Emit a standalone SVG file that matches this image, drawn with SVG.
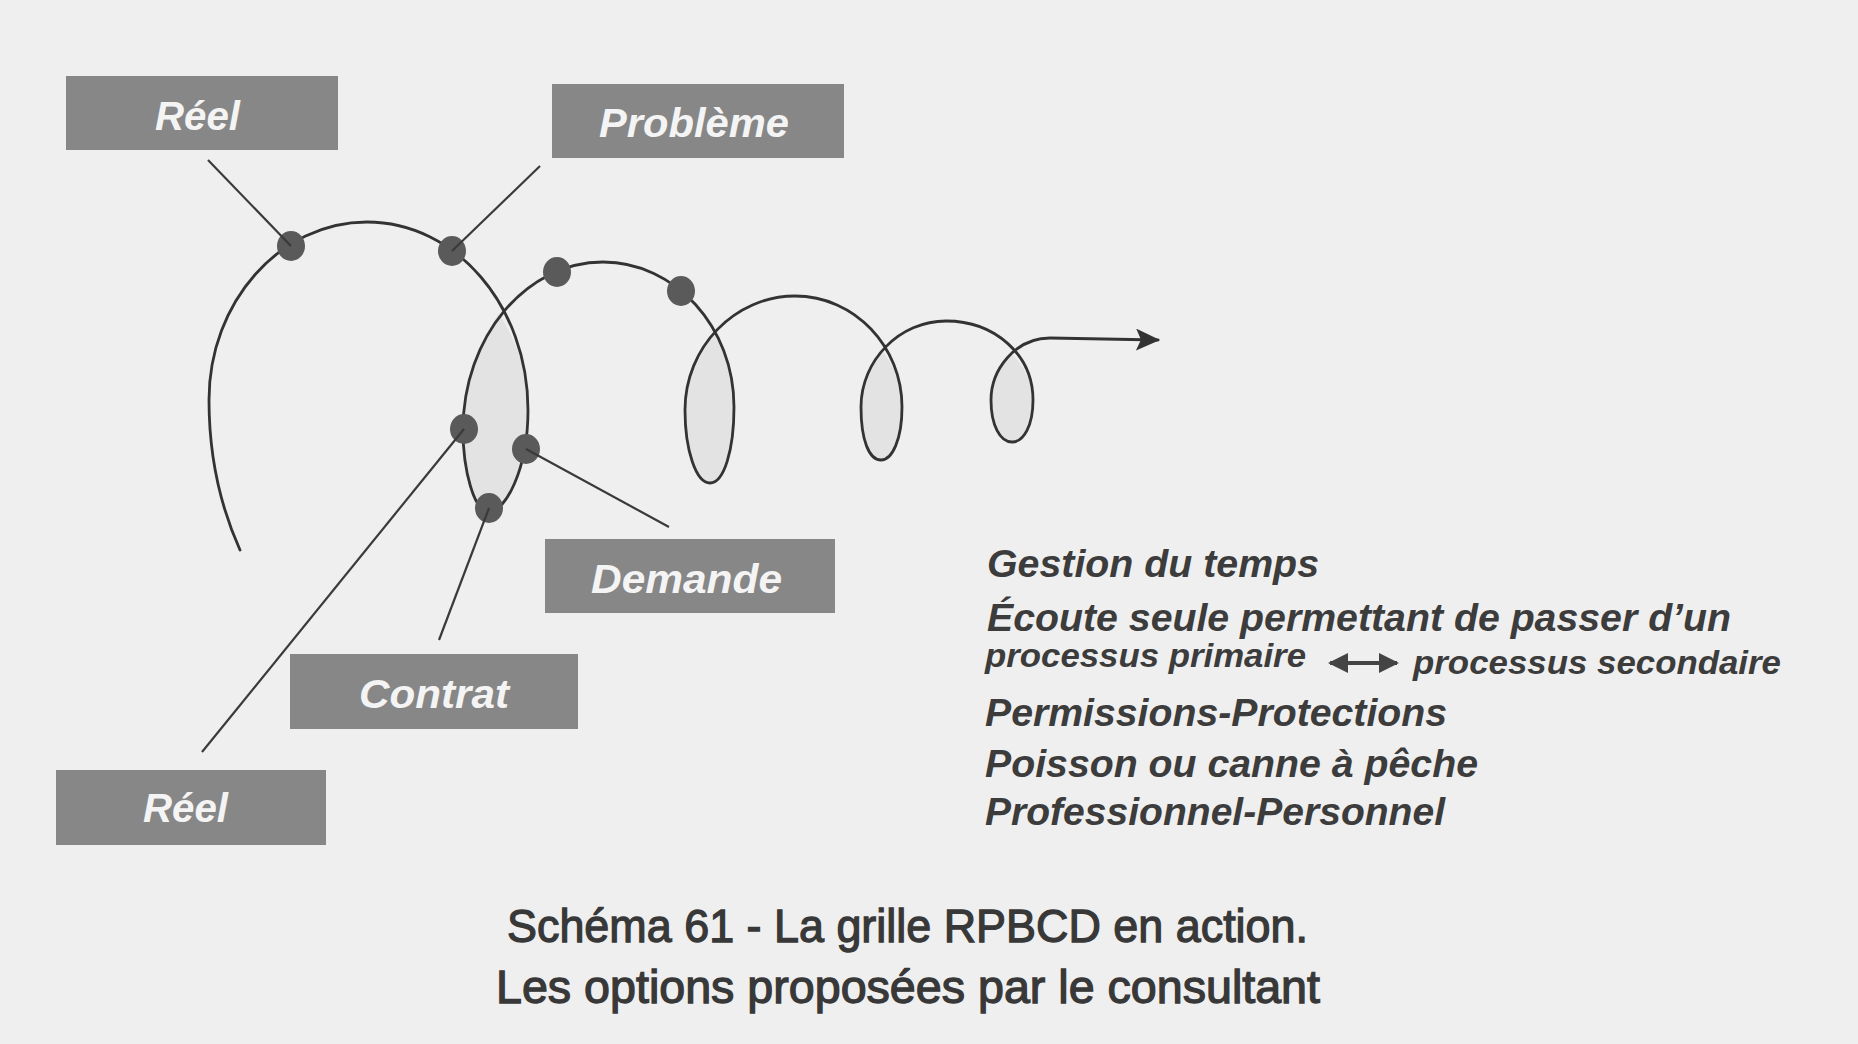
<svg xmlns="http://www.w3.org/2000/svg" width="1858" height="1044" viewBox="0 0 1858 1044">
<style>
.bg{fill:#efefef}
.box{fill:#878787}
.lbl{font-family:"Liberation Sans",Arial,sans-serif;font-weight:bold;font-style:italic;font-size:40px;fill:#f4f4f4}
.ln{stroke:#3a3a3a;stroke-width:2.2;fill:none}
.sp{stroke:#333;stroke-width:2.8;fill:none;stroke-linecap:round}
.lens{fill:#e3e3e3;stroke:none}
.dot{fill:#5a5a5a}
.opt{font-family:"Liberation Sans",Arial,sans-serif;font-weight:bold;font-style:italic;font-size:39px;fill:#3c3c3c}
.opt2{font-family:"Liberation Sans",Arial,sans-serif;font-weight:bold;font-style:italic;font-size:34px;fill:#3c3c3c}
.cap{font-family:"Liberation Sans",Arial,sans-serif;font-size:47px;fill:#383838;stroke:#383838;stroke-width:1.3}
</style>
<defs>
<marker id="ah" viewBox="0 0 24 22" refX="22" refY="11" markerWidth="24" markerHeight="22" markerUnits="userSpaceOnUse" orient="auto">
<path d="M0,0 L24,11 L0,22 L5,11 Z" fill="#333"/>
</marker>
<marker id="dah" viewBox="0 0 20 20" refX="18" refY="10" markerWidth="20" markerHeight="20" markerUnits="userSpaceOnUse" orient="auto-start-reverse">
<path d="M0,0 L20,10 L0,20 Z" fill="#444"/>
</marker>
</defs>
<rect class="bg" x="0" y="0" width="1858" height="1044"/>

<g id="spiral">
<path class="lens" d="M499,313 C515,340 528,370 528,410 C528,470 505,512 489,512 C474,512 463,470 463,430 C464,385 478,345 499,313 Z"/>
<path class="lens" d="M714,335 C726,355 734,380 734,407 C734,450 724,483 710,483 C696,483 685,450 685,410 C685,382 697,355 714,335 Z"/>
<path class="lens" d="M883,352 C895,368 902,385 902,407 C902,440 892,460 881,460 C869,460 861,440 861,407 C861,385 870,365 883,352 Z"/>
<path class="lens" d="M1013,355 C1025,368 1033,383 1033,400 C1033,425 1024,442 1012,442 C1000,442 991,425 991,400 C991,383 1000,365 1013,355 Z"/>
<path class="sp" marker-end="url(#ah)" d="M240,550 C222,510 209,460 209,400 C209,302 280,222 367,222 C456,222 528,306 528,410 C528,470 505,512 489,512 C474,512 463,470 463,430 C463,337 526,262 603,262 C675,262 734,327 734,407 C734,450 724,483 710,483 C696,483 685,450 685,410 C685,347 735,296 795,296 C855,296 902,347 902,407 C902,440 892,460 881,460 C869,460 861,440 861,407 C861,360 900,321 946,321 C995,321 1033,355 1033,400 C1033,425 1024,442 1012,442 C1000,442 991,425 991,400 C991,370 1015,338 1050,338 L1158,340"/>
<ellipse class="dot" cx="291" cy="246" rx="14" ry="15"/>
<ellipse class="dot" cx="452" cy="251" rx="14" ry="15"/>
<ellipse class="dot" cx="557" cy="272" rx="14" ry="15"/>
<ellipse class="dot" cx="681" cy="291" rx="14" ry="15"/>
<ellipse class="dot" cx="464" cy="429" rx="14" ry="15"/>
<ellipse class="dot" cx="526" cy="449" rx="14" ry="15"/>
<ellipse class="dot" cx="489" cy="508" rx="14" ry="15"/>
</g>

<g id="connectors">
<line class="ln" x1="208" y1="160" x2="291" y2="246"/>
<line class="ln" x1="540" y1="166" x2="452" y2="251"/>
<line class="ln" x1="669" y1="527" x2="526" y2="449"/>
<line class="ln" x1="439" y1="640" x2="489" y2="508"/>
<line class="ln" x1="202" y1="752" x2="464" y2="429"/>
</g>

<g id="node-reel-top">
<rect class="box" x="66" y="76" width="272" height="74"/>
<text class="lbl" x="155" y="130" textLength="85" lengthAdjust="spacingAndGlyphs">Réel</text>
</g>
<g id="node-probleme">
<rect class="box" x="552" y="84" width="292" height="74"/>
<text class="lbl" x="599" y="137" textLength="190" lengthAdjust="spacingAndGlyphs">Problème</text>
</g>
<g id="node-demande">
<rect class="box" x="545" y="539" width="290" height="74"/>
<text class="lbl" x="591" y="593" textLength="191" lengthAdjust="spacingAndGlyphs">Demande</text>
</g>
<g id="node-contrat">
<rect class="box" x="290" y="654" width="288" height="75"/>
<text class="lbl" x="359" y="708" textLength="150" lengthAdjust="spacingAndGlyphs">Contrat</text>
</g>
<g id="node-reel-bottom">
<rect class="box" x="56" y="770" width="270" height="75"/>
<text class="lbl" x="143" y="822" textLength="85" lengthAdjust="spacingAndGlyphs">Réel</text>
</g>

<g id="options">
<text class="opt" x="987" y="577" textLength="332" lengthAdjust="spacingAndGlyphs">Gestion du temps</text>
<text class="opt" x="987" y="631" textLength="744" lengthAdjust="spacingAndGlyphs">Écoute seule permettant de passer d’un</text>
<text class="opt2" x="985" y="667" textLength="321" lengthAdjust="spacingAndGlyphs">processus primaire</text>
<line x1="1330" y1="663" x2="1397" y2="663" stroke="#444" stroke-width="4" marker-start="url(#dah)" marker-end="url(#dah)"/>
<text class="opt2" x="1413" y="674" textLength="368" lengthAdjust="spacingAndGlyphs">processus secondaire</text>
<text class="opt" x="985" y="726" textLength="462" lengthAdjust="spacingAndGlyphs">Permissions-Protections</text>
<text class="opt" x="985" y="777" textLength="493" lengthAdjust="spacingAndGlyphs">Poisson ou canne à pêche</text>
<text class="opt" x="985" y="825" textLength="460" lengthAdjust="spacingAndGlyphs">Professionnel-Personnel</text>
</g>

<g id="caption">
<text class="cap" x="507" y="942" textLength="801" lengthAdjust="spacingAndGlyphs">Schéma 61 - La grille RPBCD en action.</text>
<text class="cap" x="496" y="1003" textLength="824" lengthAdjust="spacingAndGlyphs">Les options proposées par le consultant</text>
</g>
</svg>
